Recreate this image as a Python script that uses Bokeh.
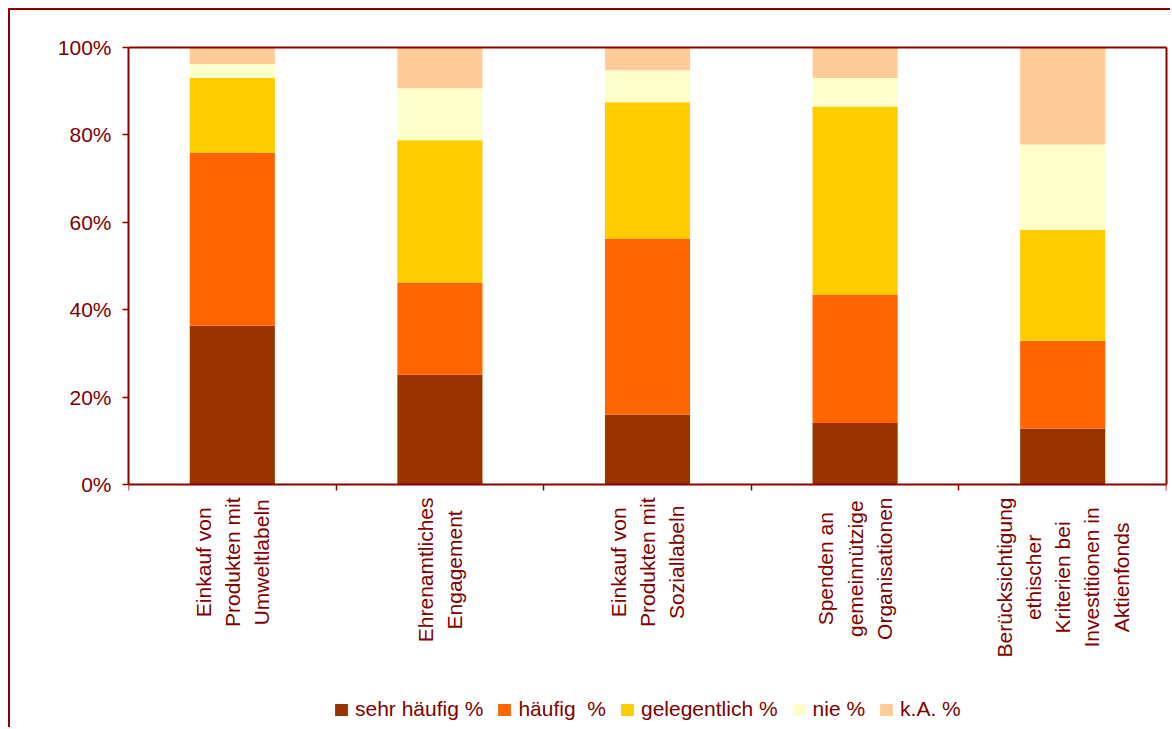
from math import pi
from bokeh.plotting import figure
from bokeh.models import (ColumnDataSource, Range1d, FixedTicker, PrintfTickFormatter,
                          Legend, LegendItem, Label, LinearAxis, CustomJSTickFormatter)
from bokeh.embed import file_html
from bokeh.resources import INLINE

# ---------------- data ----------------
categories = [
    "Einkauf von\nProdukten mit\nUmweltlabeln",
    "Ehrenamtliches\nEngagement",
    "Einkauf von\nProdukten mit\nSoziallabeln",
    "Spenden an\ngemeinnützige\nOrganisationen",
    "Berücksichtigung\nethischer\nKriterien bei\nInvestitionen in\nAktienfonds",
]
series_names = ["sehr häufig %", "häufig  %", "gelegentlich %", "nie %", "k.A. %"]
sehr_haeufig = [36.3, 25.1, 16.0, 14.1, 12.8]
haeufig = [39.7, 21.1, 40.3, 29.4, 20.1]
gelegentlich = [17.0, 32.6, 31.2, 43.0, 25.4]
nie = [3.2, 11.9, 7.3, 6.5, 19.5]
ka = [3.8, 9.3, 5.2, 7.0, 22.2]
y_ticks = [0, 20, 40, 60, 80, 100]

colors = ["#993300", "#FF6600", "#FFCC00", "#FFFFCC", "#FFCC99"]
TEXT = "#800000"
LINE = "#8B0000"
FONT = "Liberation Sans"

n = len(categories)
keys = ["s0", "s1", "s2", "s3", "s4"]
centers = [i + 0.5 for i in range(n)]
source = ColumnDataSource(dict(
    x=centers, s0=sehr_haeufig, s1=haeufig, s2=gelegentlich, s3=nie, s4=ka,
))

# ---------------- layout (pixels) ----------------
W, H = 1162, 719             # canvas; page offset 10 (8px margin + 2px border)
MB_L, MB_R, MB_T, MB_B = 118, 6, 37, 8
PLOT_H = 437                 # pixel height of the 0..100 % band
frame_h = H - MB_T - MB_B
below_px = frame_h - PLOT_H  # frame space under the 0 % line (labels, legend)
px_per_unit = PLOT_H / 100.0
y_min = -below_px / px_per_unit

p = figure(width=W, height=H, output_backend="svg", toolbar_location=None,
           x_range=Range1d(0, n), y_range=Range1d(y_min, 100),
           min_border_left=MB_L, min_border_right=MB_R,
           min_border_top=MB_T, min_border_bottom=MB_B,
           background_fill_color="white", border_fill_color="white")
p.styles = {"margin-left": "8px", "margin-top": "8px",
            "border-left": "2px solid " + LINE, "border-top": "2px solid " + LINE}

renderers = p.vbar_stack(keys, x="x", width=0.41, color=colors, line_color=None, source=source)

p.xgrid.visible = False
p.ygrid.visible = False
p.outline_line_color = None

# y axis (left)
ya = p.left[0]
ya.bounds = (0, 100)
ya.ticker = FixedTicker(ticks=y_ticks)
ya.formatter = PrintfTickFormatter(format="%d%%")
ya.minor_tick_line_color = None
ya.major_tick_in = 0
ya.major_tick_out = 6
ya.axis_line_color = LINE
ya.axis_line_width = 2
ya.major_tick_line_color = LINE
ya.major_tick_line_width = 1.5
ya.major_label_text_font = FONT
ya.major_label_text_font_size = "21px"
ya.major_label_text_color = TEXT
ya.major_label_standoff = 11

# x axis at the 0 % line: ticks at category boundaries
xa = p.below[0]
xa.fixed_location = 0
xa.ticker = FixedTicker(ticks=list(range(n + 1)))
xa.formatter = CustomJSTickFormatter(code="return ''")
xa.major_label_text_font_size = "0px"
xa.major_label_standoff = 0
xa.minor_tick_line_color = None
xa.major_tick_in = 0
xa.major_tick_out = 6
xa.axis_line_color = LINE
xa.axis_line_width = 2
xa.major_tick_line_color = LINE
xa.major_tick_line_width = 1.5

# plot-area border: top and right lines
def border_axis(**kw):
    return LinearAxis(ticker=FixedTicker(ticks=[]), formatter=CustomJSTickFormatter(code="return ''"),
                      major_label_text_font_size="0px", major_tick_line_color=None,
                      minor_tick_line_color=None, axis_line_color=LINE, axis_line_width=2,
                      major_label_standoff=0, major_tick_in=0, major_tick_out=0, **kw)

p.add_layout(border_axis(), "above")
p.add_layout(border_axis(bounds=(0, 100)), "right")

# category labels (rotated, lines centred)
AW = {' ': 278, 'A': 667, 'B': 667, 'E': 667, 'I': 278, 'K': 667, 'O': 778, 'P': 667,
      'S': 667, 'U': 722, 'a': 556, 'b': 556, 'c': 500, 'd': 556, 'e': 556, 'f': 278,
      'g': 556, 'h': 556, 'i': 222, 'k': 500, 'l': 222, 'm': 833, 'n': 556, 'o': 556,
      'p': 556, 'r': 333, 's': 500, 't': 278, 'u': 556, 'v': 500, 'w': 722, 'z': 500,
      'ü': 556, 'ä': 556}
FS = 21
TOP_GAP = 13  # px from the 0 % line to the end of the longest line
for i, cat in enumerate(categories):
    L = max(sum(AW.get(c, 556) for c in line) for line in cat.split("\n")) * FS / 1000.0
    off = TOP_GAP + L / 2.0
    p.add_layout(Label(x=centers[i], y=-off / px_per_unit, text=cat, angle=pi / 2,
                       text_align="center", text_baseline="middle",
                       text_font=FONT, text_font_size=f"{FS}px", text_color=TEXT,
                       text_line_height=1.27))

legend = Legend(items=[LegendItem(label=nm, renderers=[r]) for nm, r in zip(series_names, renderers)],
                orientation="horizontal", location=(205, 0),
                border_line_color=None, background_fill_alpha=0,
                padding=0, margin=0, spacing=13, glyph_width=16, glyph_height=15,
                label_standoff=6, label_text_font=FONT, label_text_font_size="21px",
                label_text_color=TEXT)
p.add_layout(legend)

open("out.html", "w").write(file_html(p, INLINE))
